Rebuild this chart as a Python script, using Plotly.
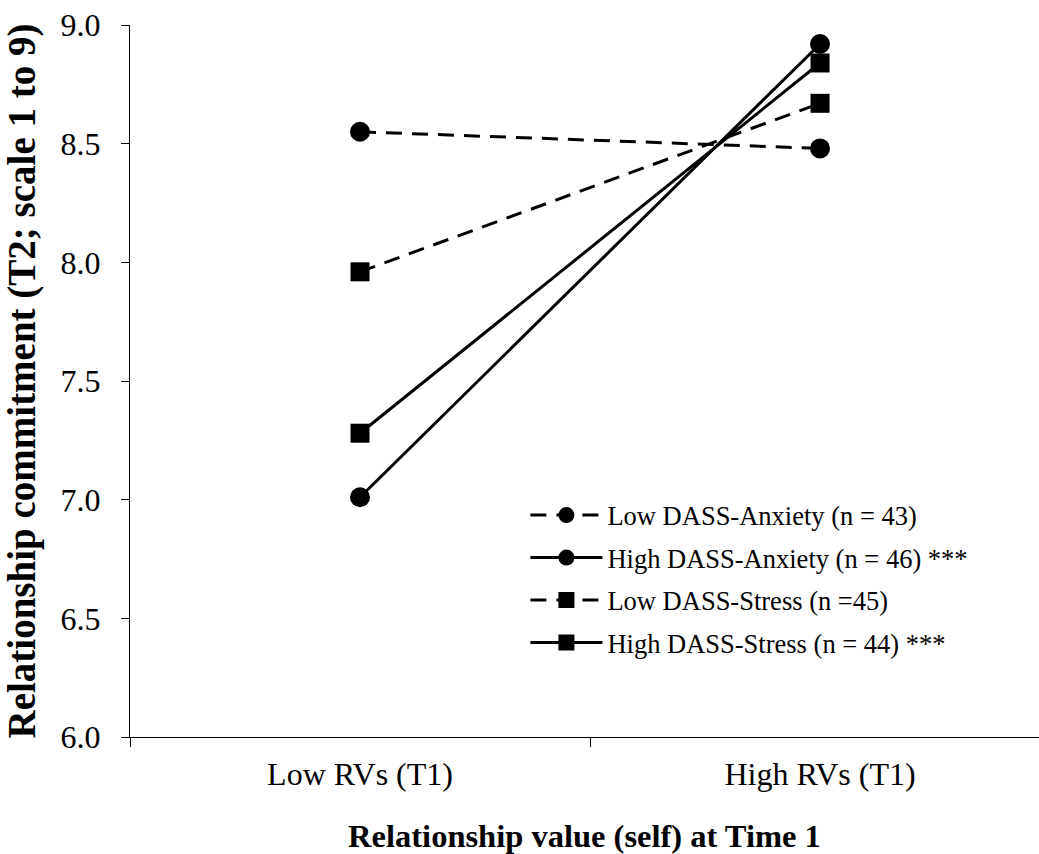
import plotly.graph_objects as go

# Relationship commitment at Time 2 by relationship value at Time 1
categories = ["Low RVs (T1)", "High RVs (T1)"]

series_names = [
    "Low DASS-Anxiety (n = 43)",
    "High DASS-Anxiety (n = 46) ***",
    "Low DASS-Stress (n =45)",
    "High DASS-Stress (n = 44) ***",
]
low_anxiety = [8.55, 8.48]
high_anxiety = [7.01, 8.92]
low_stress = [7.96, 8.67]
high_stress = [7.28, 8.84]

y_ticks = [6.0, 6.5, 7.0, 7.5, 8.0, 8.5, 9.0]

FONT = "Liberation Serif, Times New Roman, serif"

styles = [
    dict(dash="16px,10px", symbol="circle", size=20),
    dict(dash="solid", symbol="circle", size=20),
    dict(dash="16px,10px", symbol="square", size=19),
    dict(dash="solid", symbol="square", size=19),
]

fig = go.Figure()
for i, (name, vals, st) in enumerate(zip(
        series_names,
        [low_anxiety, high_anxiety, low_stress, high_stress],
        styles)):
    fig.add_trace(go.Scatter(
        x=categories, y=vals, name=name, mode="lines+markers",
        legendgroup=f"g{i}",
        line=dict(color="black", width=3, dash=st["dash"]),
        marker=dict(color="black", symbol=st["symbol"], size=st["size"]),
    ))

fig.update_layout(
    width=1039, height=854,
    margin=dict(l=130, r=0, t=25, b=117),
    paper_bgcolor="white", plot_bgcolor="white",
    font=dict(family=FONT, color="black", size=28),
    showlegend=True,
    legend=dict(
        x=0.435, y=0.345, xanchor="left", yanchor="top",
        bgcolor="rgba(0,0,0,0)", font=dict(size=26.5, family=FONT),
        itemwidth=72, tracegroupgap=5,
    ),
)

fig.update_xaxes(
    type="category", range=[-0.5, 1.476],
    tickson="boundaries", ticks="outside", ticklen=9, tickwidth=1,
    tickcolor="black", showline=True, linecolor="black", linewidth=1,
    showgrid=False, zeroline=False, ticklabelstandoff=9,
    tickfont=dict(size=32, family=FONT),
    title=dict(text="<b>Relationship value (self) at Time 1</b>",
               font=dict(size=32.5, family=FONT), standoff=38),
)
fig.update_yaxes(
    range=[6, 9], tickvals=y_ticks, tickformat=".1f",
    ticks="outside", ticklen=8, tickwidth=1, tickcolor="black",
    showline=True, linecolor="black", linewidth=1,
    showgrid=False, zeroline=False, ticklabelstandoff=14,
    tickfont=dict(size=32, family=FONT),
    title=dict(text="<b>Relationship commitment (T2; scale 1 to 9)</b>",
               font=dict(size=39, family=FONT), standoff=12),
)

fig.write_html("out.html")
